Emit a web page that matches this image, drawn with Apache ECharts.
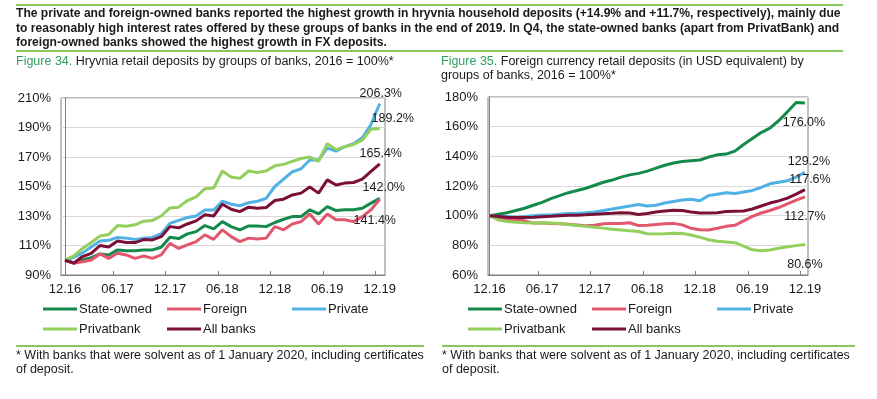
<!DOCTYPE html>
<html>
<head>
<meta charset="utf-8">
<script src="https://cdn.jsdelivr.net/npm/echarts@6/dist/echarts.min.js"></script>
<style>
body { margin: 0; background: #fff; font-family: "Liberation Sans", Arial, sans-serif; color: #1a1a1a; }
#page { position: relative; width: 877px; height: 399px; overflow: hidden; }
#chart { position: absolute; left: 0; top: 0; width: 877px; height: 399px; }
.rule { position: absolute; height: 2px; background: #8cc65a; }
.txt { position: absolute; font-size: 12.5px; line-height: 14px; white-space: nowrap; }
.fig { color: #2f9f5e; }
</style>
</head>
<body>
<div id="page">
  <div id="chart"></div>
  <div class="rule" style="left:16px;top:4px;width:827px"></div>
  <div class="txt" style="left:16px;top:6px;font-size:12.1px;font-weight:bold;line-height:14.7px">The private and foreign-owned banks reported the highest growth in hryvnia household deposits (+14.9% and +11.7%, respectively), mainly due<br>to reasonably high interest rates offered by these groups of banks in the end of 2019. In Q4, the state-owned banks (apart from PrivatBank) and<br>foreign-owned banks showed the highest growth in FX deposits.</div>
  <div class="rule" style="left:16px;top:50px;width:827px"></div>
  <div class="txt" style="left:16px;top:54px"><span class="fig">Figure 34.</span> Hryvnia retail deposits by groups of banks, 2016 = 100%*</div>
  <div class="txt" style="left:441px;top:54px"><span class="fig">Figure 35.</span> Foreign currency retail deposits (in USD equivalent) by<br>groups of banks, 2016 = 100%*</div>
  <div class="rule" style="left:16px;top:345px;width:408px"></div>
  <div class="rule" style="left:442px;top:345px;width:413px"></div>
  <div class="txt" style="left:16px;top:348px">* With banks that were solvent as of 1 January 2020, including certificates<br>of deposit.</div>
  <div class="txt" style="left:442px;top:348px">* With banks that were solvent as of 1 January 2020, including certificates<br>of deposit.</div>
</div>
<script>
// подписи оси X (каждые 6 месяцев)
var months = ['12.16', '06.17', '12.17', '06.18', '12.18', '06.19', '12.19'];
var names = ['State-owned', 'Foreign', 'Private', 'Privatbank', 'All banks'];
var colors = ['#138a4b', '#e2566e', '#4fb1e4', '#93cf5c', '#7a0f38'];

// Figure 34, гривневые депозиты, 12.16 ... 12.19
var uahState = [100, 98.4, 100.2, 101.8, 104.3, 103.6, 107, 106.5, 106.5, 107, 107, 108.8, 115.6, 114.7, 117.9, 119.4, 123.5, 121.3, 126.2, 122.8, 120.6, 123.3, 123.3, 122.8, 125.6, 127.8, 129.6, 129.6, 134.2, 131.4, 136.4, 133.7, 134.2, 134.2, 135.3, 138.7, 142.0];
var uahForeign = [100, 98, 99, 100.2, 104.3, 101.3, 104.7, 103.6, 101.3, 102.9, 101.3, 103.6, 111.5, 108, 110.4, 112.6, 117.2, 114.2, 120.6, 116, 112.6, 115, 114.4, 115, 122.8, 120.6, 124.6, 126.2, 131.4, 124.6, 131.4, 127.4, 127.4, 126.2, 129.6, 134.2, 141.4];
var uahPrivate = [100, 102, 105, 109, 113, 113.5, 115.5, 115, 114, 115, 115.5, 118, 125, 127, 129, 130, 134, 134, 140, 138, 137, 139, 140, 142, 150, 155, 160, 162, 168, 168, 176, 174, 177, 179, 183, 192, 206.3];
var uahPrivat = [100, 103, 108, 112, 116.5, 117.5, 123.5, 123, 124, 126.5, 127, 130, 135.5, 136, 140.5, 143, 148.5, 149, 160.5, 156.5, 155.5, 160.5, 159.5, 160.5, 164, 165, 167, 169, 170, 167, 179, 175, 177, 178.5, 181.5, 189, 189.2];
var uahAll = [100, 98, 102.5, 104.7, 110, 109, 113, 112, 112, 114, 113.8, 116, 122.8, 122, 124.6, 126.7, 130.8, 130, 138, 134.6, 133, 136, 135.3, 135.7, 140.5, 141.4, 144.3, 145.5, 149.6, 145.5, 154.5, 151, 152.3, 152.7, 155, 160.2, 165.4];

// Figure 35, валютные депозиты (USD экв.)
var fxState = [100, 101, 102, 103.5, 105, 107, 109, 111.5, 113.5, 115.5, 117, 118.5, 120.5, 122.5, 124, 126, 127.5, 128.5, 130, 132, 134, 135.5, 136.5, 137, 137.5, 139.5, 141, 141.5, 143.5, 148, 152, 156, 159, 164, 170, 176.3, 176.0];
var fxForeign = [100, 98.5, 97.5, 97, 96.5, 95, 95, 94.7, 94.5, 94.2, 93.7, 93.2, 93.5, 94.5, 94.8, 94.8, 95.2, 93.3, 93.6, 94, 94.6, 94.8, 93.8, 91.5, 90.5, 90.3, 91.5, 92.8, 93.5, 96.5, 99.5, 101.8, 103.5, 105.5, 108, 110.5, 112.7];
var fxPrivate = [100, 99.5, 99.5, 99, 99.5, 100, 100.5, 100.5, 101, 101.5, 101.5, 102, 102.5, 103.5, 104.5, 105.5, 106.5, 107.5, 106.5, 107, 108.5, 109.5, 110.5, 111, 110, 113.5, 114.5, 115.5, 115, 116, 117, 119, 121.5, 122.5, 123.5, 126, 129.2];
var fxPrivat = [100, 97, 96, 95.5, 95.2, 95, 95.2, 95, 94.7, 94, 93.3, 92.8, 92.2, 91.6, 90.8, 90.4, 89.8, 89.3, 87.8, 87.6, 87.8, 88.2, 88, 87, 85.5, 83.8, 82.7, 82.3, 81.8, 79.5, 77, 76.3, 76.8, 78, 79, 79.8, 80.6];
var fxAll = [100, 99.5, 99, 98.8, 98.8, 99, 99.3, 99.6, 100, 100.2, 100.3, 100.6, 101, 101.3, 101.6, 102, 101.8, 100.8, 101.5, 102.5, 103.2, 103.6, 103.5, 102.5, 101.8, 101.8, 102, 102.8, 103, 103.2, 104.5, 106.5, 108.5, 110, 111.8, 114.5, 117.6];

// сдвиги подписей последних значений [dx, dy]
var uahOffsets = [[4, -11], [-5, 21], [1, -10], [13, -10], [1, -10]];
var fxOffsets = [[-1, 20], [0, 20], [4, -11], [0, 20], [5, -10]];

var textColor = '#1a1a1a';
var axisColor = '#808080';

function lineSeries(k, g, arr, off) {
    var last = arr.length - 1;
    return {
        type: 'line',
        name: names[k],
        xAxisIndex: g,
        yAxisIndex: g,
        data: arr.map(function (v, i) { return [i, v]; }),
        symbol: 'none',
        lineStyle: { width: 3, color: colors[k] },
        itemStyle: { color: colors[k] },
        markPoint: {
            symbol: 'circle',
            symbolSize: 1,
            itemStyle: { color: 'rgba(0,0,0,0)' },
            label: {
                show: true,
                position: 'inside',
                offset: off,
                color: textColor,
                fontSize: 12.5,
                formatter: function () { return arr[last].toFixed(1) + '%'; }
            },
            data: [{ coord: [last, arr[last]] }]
        }
    };
}

function xAxisOf(g, min, max) {
    return {
        type: 'value',
        gridIndex: g,
        min: min,
        max: max,
        axisLine: { show: true, lineStyle: { color: axisColor } },
        axisTick: { show: true, inside: true, length: 4, customValues: [5.5, 11.5, 17.5, 23.5, 29.5, 35.5], lineStyle: { color: axisColor } },
        axisLabel: {
            customValues: [0, 6, 12, 18, 24, 30, 36],
            formatter: function (v) { return months[Math.round(v / 6)]; },
            color: textColor,
            fontSize: 13,
            margin: 8
        },
        splitLine: { show: false }
    };
}

function yAxisOf(g, min, max) {
    var vals = [];
    for (var v = min; v <= max; v += 20) vals.push(v);
    return {
        type: 'value',
        gridIndex: g,
        min: min,
        max: max,
        axisLine: { show: true, lineStyle: { color: axisColor } },
        axisTick: { show: false, customValues: vals },
        axisLabel: { customValues: vals, formatter: '{value}%', color: textColor, fontSize: 13, margin: 10 },
        splitLine: { show: true, customValues: vals, lineStyle: { color: '#d9d9d9' } }
    };
}

function legendAt(left, items) {
    return {
        left: left,
        top: 302,
        orient: 'vertical',
        padding: 0,
        data: items,
        icon: 'rect',
        itemWidth: 34,
        itemHeight: 3,
        itemGap: 6,
        selectedMode: false,
        textStyle: { fontSize: 13, color: textColor, lineHeight: 14, padding: [0, 0, 0, -3] }
    };
}

var chart = echarts.init(document.getElementById('chart'));
var uah = [uahState, uahForeign, uahPrivate, uahPrivat, uahAll];
var fx = [fxState, fxForeign, fxPrivate, fxPrivat, fxAll];
var series = [];
for (var k = 0; k < 5; k++) series.push(lineSeries(k, 0, uah[k], uahOffsets[k]));
for (var k = 0; k < 5; k++) series.push(lineSeries(k, 1, fx[k], fxOffsets[k]));

chart.setOption({
    animation: false,
    textStyle: { fontFamily: '"Liberation Sans", Arial, sans-serif' },
    grid: [
        { left: 61, top: 98, width: 324, height: 177, show: true, borderColor: axisColor, borderWidth: 1 },
        { left: 488, top: 97, width: 320, height: 178, show: true, borderColor: axisColor, borderWidth: 1 }
    ],
    xAxis: [xAxisOf(0, -0.46, 36.6), xAxisOf(1, -0.18, 36.35)],
    yAxis: [yAxisOf(0, 90, 210), yAxisOf(1, 60, 180)],
    legend: [
        legendAt(43, ['State-owned', 'Privatbank']),
        legendAt(167, ['Foreign', 'All banks']),
        legendAt(292, ['Private']),
        legendAt(468, ['State-owned', 'Privatbank']),
        legendAt(592, ['Foreign', 'All banks']),
        legendAt(717, ['Private'])
    ],
    series: series
});
</script>
</body>
</html>
